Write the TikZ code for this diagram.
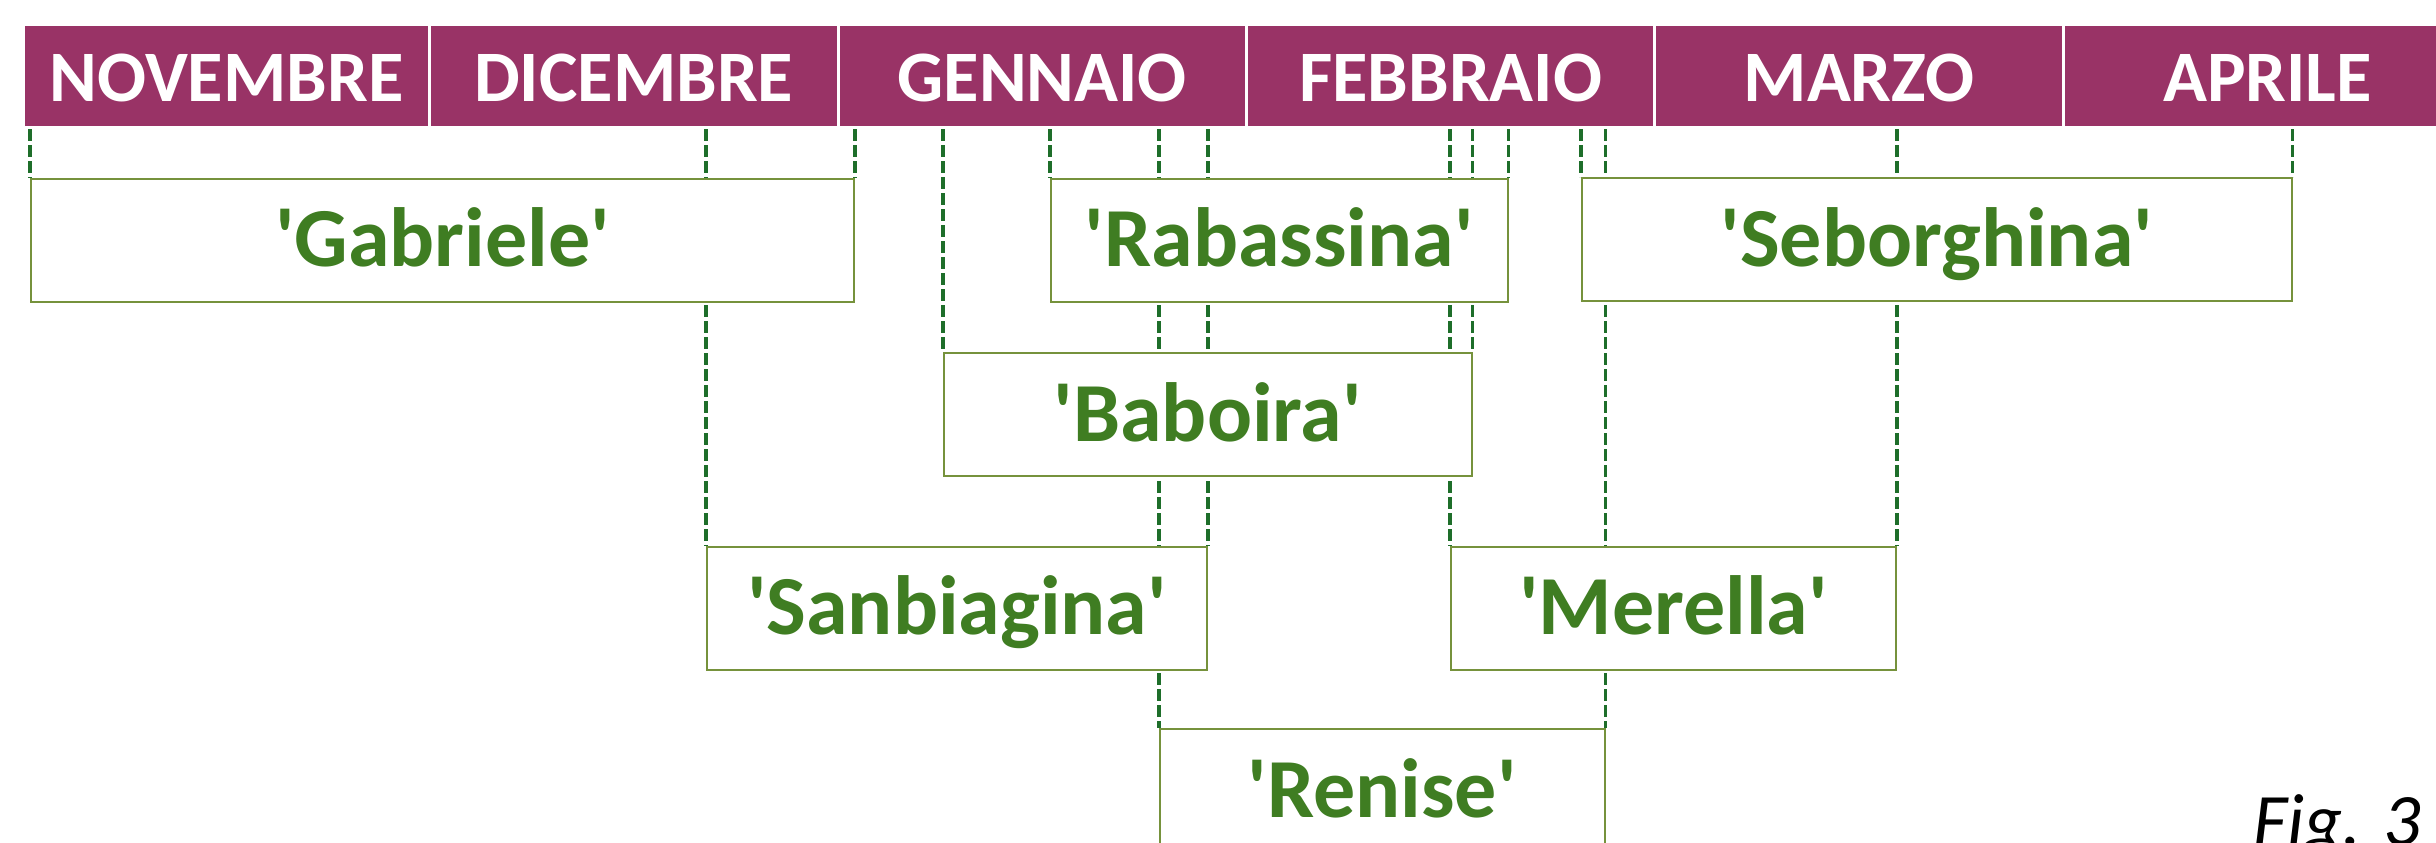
\documentclass[tikz,border=0pt]{standalone}
\usepackage{fontspec}
\setmainfont{Carlito}[Ligatures=TeXOff]
\usetikzlibrary{backgrounds}
\definecolor{hdr}{RGB}{153,51,102}
\definecolor{boxc}{RGB}{118,146,60}
\definecolor{txtg}{RGB}{63,125,34}
\definecolor{lineg}{RGB}{30,110,42}
\begin{document}
\begin{tikzpicture}[x=0.5pt,y=-0.5pt,
  month/.style={fill=hdr, draw=white, line width=1.5pt, text=white,
    font=\bfseries\fontsize{36.25}{40}\selectfont, inner sep=0pt,
    minimum height=51.5pt, text height=26pt, text depth=0.5pt, anchor=north west},
  cultivar/.style={fill=white, draw=boxc, line width=1pt, text=txtg,
    font=\bfseries\fontsize{42}{46}\selectfont, inner sep=0pt,
    minimum height=61.5pt, text height=30pt, text depth=3.2pt, anchor=north west},
  guide/.style={draw=lineg, line width=1.65pt, dash pattern=on 6pt off 2pt}]
\useasboundingbox (0,0) rectangle (2436,842);
% month header
\node[month, minimum width=203pt]    (nov) at (22,23)   {NOVEMBRE};
\node[month, minimum width=204.25pt] (dic) at (428,23)  {DICEMBRE};
\node[month, minimum width=204.25pt] (gen) at (836.5,23) {GENNAIO};
\node[month, minimum width=204pt]    (feb) at (1245,23) {FEBBRAIO};
\node[month, minimum width=204.5pt]  (mar) at (1653,23) {MARZO};
\node[month, minimum width=204pt]    (apr) at (2062,23) {APRILE};
\coordinate (lt) at (0,129);
% cultivar boxes
\node[cultivar, minimum width=411.5pt]  (gab) at (30,177.5)   {'Gabriele'};
\node[cultivar, minimum width=228.25pt] (rab) at (1050,177.5) {'Rabassina'};
\node[cultivar, minimum width=354.75pt] (seb) at (1581,177)   {'Seborghina'};
\node[cultivar, minimum width=263.75pt] (bab) at (943,352)    {'Baboira'};
\node[cultivar, minimum width=250pt]    (san) at (706,545.5)  {'Sanbiagina'};
\node[cultivar, minimum width=222.5pt]  (mer) at (1450,545.5) {'Merella'};
\node[cultivar, minimum width=222.25pt] (ren) at (1159,728)   {'Renise'};
% guide lines
\begin{scope}[on background layer]
\foreach \n in {gab,rab,seb,bab,san,mer,ren}{
  \draw[guide] (\n.north west |- lt) -- (\n.north west);
  \draw[guide] (\n.north east |- lt) -- (\n.north east);
}
\end{scope}
\node[anchor=base west, inner sep=0pt, font=\itshape\fontsize{37}{40}\selectfont] (fig) at (2253,845) {Fig. 3};
\end{tikzpicture}
\end{document}
